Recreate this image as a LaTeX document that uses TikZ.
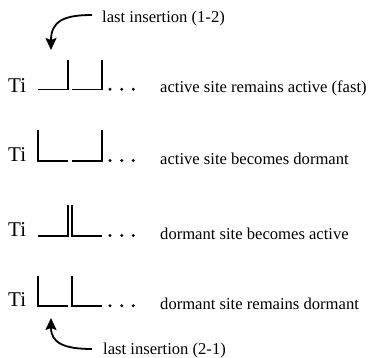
\documentclass[tikz,border=0pt]{standalone}
\usepackage{fontspec}
\setmainfont{Liberation Serif}
\usetikzlibrary{arrows.meta}
\begin{document}
\begin{tikzpicture}[x=1pt,y=-1pt,
  chain/.style={line width=1.1pt},
  dotmark/.style={circle,fill=black,inner sep=0pt,minimum size=3.2pt},
  lbl/.style={anchor=base west,inner sep=0pt,font=\fontsize{16.6}{18}\selectfont},
  tinode/.style={anchor=base west,inner sep=0pt,font=\fontsize{21}{22}\selectfont},
  curvearrow/.style={line width=1.8pt,-{Stealth[length=12pt,width=11pt,inset=2pt]}}]
\useasboundingbox (0,0) rectangle (368,358);
% row 1
\node[tinode] (ti1) at (8,92.5) {Ti};
\draw[chain] (38,89.5) -- (68,89.5) -- (68,60);
\draw[chain] (72,89.5) -- (102,89.5) -- (102,60);
\foreach \x [count=\i] in {110,121.7,133.3} \node[dotmark] (d1\i) at (\x,89.3) {};
\node[lbl] (l1) at (160,92.5) {active site remains active (fast)};
% row 2
\node[tinode] (ti2) at (8,162) {Ti};
\draw[chain] (38,130) -- (38,161) -- (68,161);
\draw[chain] (72,161) -- (102,161) -- (102,130);
\foreach \x [count=\i] in {110,121.7,133.3} \node[dotmark] (d2\i) at (\x,160.5) {};
\node[lbl] (l2) at (160,164.5) {active site becomes dormant};
% row 3
\node[tinode] (ti3) at (8,237) {Ti};
\draw[chain] (38,236) -- (68,236) -- (68,205);
\draw[chain] (72,205) -- (72,236) -- (102,236);
\foreach \x [count=\i] in {110,121.7,133.3} \node[dotmark] (d3\i) at (\x,235.5) {};
\node[lbl] (l3) at (160,239.5) {dormant site becomes active};
% row 4
\node[tinode] (ti4) at (8,307) {Ti};
\draw[chain] (38,276) -- (38,306) -- (68,306);
\draw[chain] (72,276) -- (72,306) -- (102,306);
\foreach \x [count=\i] in {110,121.7,133.3} \node[dotmark] (d4\i) at (\x,305.8) {};
\node[lbl] (l4) at (160,310) {dormant site remains dormant};
% insertion labels and arrows
\node[lbl] (top) at (102,23) {last insertion (1-2)};
\coordinate (topstart) at (92,15);
\coordinate (topend) at (51,50);
\draw[curvearrow] (topstart) .. controls (64,15) and (51,21) .. (topend);
\node[lbl] (bot) at (103,355) {last insertion (2-1)};
\coordinate (botstart) at (92,349);
\coordinate (botend) at (51,318);
\draw[curvearrow] (botstart) .. controls (64,349) and (51,343) .. (botend);
\end{tikzpicture}
\end{document}
